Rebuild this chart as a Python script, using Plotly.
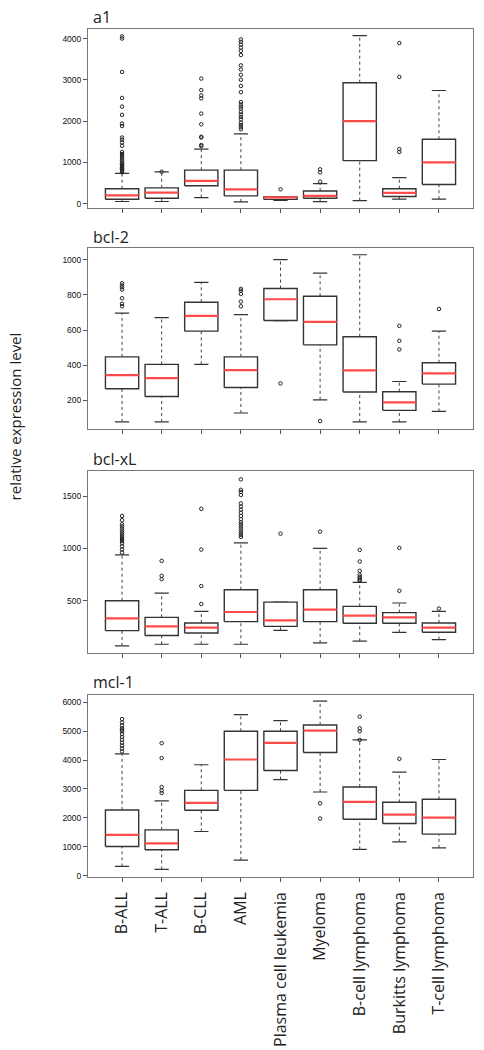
import plotly.graph_objects as go

W, H = 484, 1050

categories = ["B-ALL", "T-ALL", "B-CLL", "AML", "Plasma cell leukemia", "Myeloma",
              "B-cell lymphoma", "Burkitts lymphoma", "T-cell lymphoma"]

# ---- a1 ----
a1_low = [50, 50, 145, 40, 78, 48, 70, 105, 105]
a1_q1 = [105, 130, 430, 185, 100, 128, 1040, 170, 460]
a1_med = [200, 265, 550, 345, 150, 184, 2000, 260, 1000]
a1_q3 = [360, 380, 810, 810, 162, 305, 2930, 360, 1560]
a1_high = [730, 770, 1320, 1690, 162, 483, 4070, 628, 2740]
a1_out = [
    [760, 790, 820, 850, 880, 910, 940, 970, 1000, 1050, 1100, 1150, 1200, 1250,
     1400, 1480, 1550, 1600, 1880, 1940, 2150, 2350, 2560, 3190, 4000, 4050],
    [770],
    [1390, 1420, 1600, 1620, 1920, 2180, 2550, 2620, 2750, 3030],
    [1800, 1850, 1900, 1960, 2040, 2100, 2160, 2220, 2300, 2350, 2400, 2460, 2700,
     2850, 3000, 3120, 3250, 3350, 3600, 3700, 3780, 3850, 3920, 3980],
    [345],
    [530, 755, 830],
    [],
    [1250, 1320, 3070, 3890],
    [],
]
a1_ticks = [0, 1000, 2000, 3000, 4000]

# ---- bcl-2 ----
bcl2_low = [78, 78, 405, 129, 654, 204, 78, 78, 138]
bcl2_q1 = [267, 223, 594, 274, 654, 516, 248, 144, 293]
bcl2_med = [344, 327, 681, 372, 775, 647, 371, 189, 354]
bcl2_q3 = [448, 405, 758, 448, 836, 792, 562, 250, 414]
bcl2_high = [696, 671, 871, 688, 1000, 923, 1028, 308, 594]
bcl2_out = [
    [735, 749, 781, 830, 843, 853, 866],
    [],
    [],
    [735, 762, 805, 824, 834],
    [297],
    [83],
    [],
    [490, 539, 624],
    [720],
]
bcl2_ticks = [200, 400, 600, 800, 1000]

# ---- bcl-xL ----
bclxl_low = [68, 84, 84, 84, 217, 97, 113, 198, 129]
bclxl_q1 = [214, 167, 192, 300, 255, 300, 284, 284, 198]
bclxl_med = [332, 255, 243, 392, 313, 414, 357, 341, 243]
bclxl_q3 = [500, 341, 287, 605, 487, 605, 446, 386, 287]
bclxl_high = [938, 573, 398, 1052, 487, 1000, 675, 478, 398]
bclxl_out = [
    [960, 990, 1020, 1050, 1070, 1090, 1110, 1130, 1150, 1170, 1190, 1210, 1230, 1270, 1310],
    [706, 738, 881],
    [468, 640, 989, 1379],
    [1110, 1130, 1150, 1170, 1190, 1210, 1230, 1250, 1280, 1310, 1340, 1370, 1400,
     1430, 1510, 1540, 1560, 1660],
    [1141],
    [1160],
    [690, 700, 715, 730, 750, 786, 875, 986],
    [595, 1005],
    [425],
]
bclxl_ticks = [500, 1000, 1500]

# ---- mcl-1 ----
mcl1_low = [322, 218, 1528, 540, 3321, 2895, 908, 1172, 965]
mcl1_q1 = [1011, 896, 2264, 2953, 3642, 4263, 1953, 1804, 1436]
mcl1_med = [1413, 1115, 2516, 4021, 4596, 5021, 2551, 2114, 2011]
mcl1_q3 = [2275, 1586, 2953, 4998, 4998, 5216, 3068, 2539, 2643]
mcl1_high = [4217, 2585, 3838, 5573, 5366, 6044, 4699, 3585, 4021]
mcl1_out = [
    [4300, 4400, 4500, 4600, 4700, 4800, 4900, 5000, 5050, 5100, 5200, 5300, 5420],
    [2860, 2950, 3070, 4070, 4585],
    [],
    [],
    [],
    [2505, 1976],
    [4700, 5000, 5100, 5504],
    [4044],
    [],
]
mcl1_ticks = [0, 1000, 2000, 3000, 4000, 5000, 6000]

panels = [
    dict(title="a1", low=a1_low, q1=a1_q1, med=a1_med, q3=a1_q3, high=a1_high,
         out=a1_out, ticks=a1_ticks, yr=[-113, 4234], top=29, bot=209, ty=17),
    dict(title="bcl-2", low=bcl2_low, q1=bcl2_q1, med=bcl2_med, q3=bcl2_q3, high=bcl2_high,
         out=bcl2_out, ticks=bcl2_ticks, yr=[36, 1066], top=249, bot=431, ty=238),
    dict(title="bcl-xL", low=bclxl_low, q1=bclxl_q1, med=bclxl_med, q3=bclxl_q3, high=bclxl_high,
         out=bclxl_out, ticks=bclxl_ticks, yr=[5, 1738], top=473, bot=655, ty=461),
    dict(title="mcl-1", low=mcl1_low, q1=mcl1_q1, med=mcl1_med, q3=mcl1_q3, high=mcl1_high,
         out=mcl1_out, ticks=mcl1_ticks, yr=[-34, 6241], top=698, bot=880, ty=685),
]

BOX_HW = 0.42
CAP_HW = 0.18
X_LEFT, X_RIGHT = 88, 473

fig = go.Figure()
annotations = []
layout_axes = {}

for k, p in enumerate(panels):
    n = k + 1
    xa = "x" if n == 1 else f"x{n}"
    ya = "y" if n == 1 else f"y{n}"
    bx, by, mx, my, wx, wy, cx, cy, ox, oy = [], [], [], [], [], [], [], [], [], []
    for i in range(len(categories)):
        l, a, m, b, h = p["low"][i], p["q1"][i], p["med"][i], p["q3"][i], p["high"][i]
        bx += [i - BOX_HW, i + BOX_HW, i + BOX_HW, i - BOX_HW, i - BOX_HW, None]
        by += [a, a, b, b, a, None]
        mx += [i - BOX_HW, i + BOX_HW, None]
        my += [m, m, None]
        wx += [i, i, None, i, i, None]
        wy += [b, h, None, l, a, None]
        cx += [i - CAP_HW, i + CAP_HW, None, i - CAP_HW, i + CAP_HW, None]
        cy += [h, h, None, l, l, None]
        for v in p["out"][i]:
            ox.append(i)
            oy.append(v)
    common = dict(xaxis=xa, yaxis=ya, showlegend=False, hoverinfo="skip")
    fig.add_trace(go.Scatter(x=wx, y=wy, mode="lines",
                             line=dict(color="#444", width=1, dash="dot"), **common))
    fig.add_trace(go.Scatter(x=cx, y=cy, mode="lines",
                             line=dict(color="#333", width=1.2), **common))
    fig.add_trace(go.Scatter(x=bx, y=by, mode="lines", fill="toself", fillcolor="white",
                             line=dict(color="#333", width=1.4), **common))
    fig.add_trace(go.Scatter(x=mx, y=my, mode="lines",
                             line=dict(color="#ff4a4a", width=2.2), **common))
    fig.add_trace(go.Scatter(x=ox, y=oy, mode="markers",
                             marker=dict(symbol="circle-open", size=3.5, color="#222",
                                         line=dict(width=1, color="#222")), **common))

    ydom = [1 - p["bot"] / H, 1 - p["top"] / H]
    last = (n == len(panels))
    layout_axes["xaxis" if n == 1 else f"xaxis{n}"] = dict(
        domain=[X_LEFT / W, X_RIGHT / W], anchor=ya, range=[-0.86, 8.86],
        tickmode="array", tickvals=list(range(len(categories))),
        ticktext=categories if last else [""] * len(categories),
        showticklabels=last, tickangle=-90, ticklabelstandoff=4,
        tickfont=dict(family="Open Sans", size=16, color="#222"),
        ticks="outside", ticklen=4, tickcolor="#555", tickwidth=1,
        showline=True, linecolor="#777", linewidth=1, mirror=True,
        showgrid=False, zeroline=False, fixedrange=True,
    )
    layout_axes["yaxis" if n == 1 else f"yaxis{n}"] = dict(
        domain=ydom, anchor=xa, range=p["yr"],
        tickmode="array", tickvals=p["ticks"], ticktext=[str(t) for t in p["ticks"]],
        tickfont=dict(family="Liberation Sans", size=8.5, color="#111"),
        ticks="outside", ticklen=4, tickcolor="#555", tickwidth=1,
        showline=True, linecolor="#777", linewidth=1, mirror=True,
        showgrid=False, zeroline=False, fixedrange=True,
    )
    annotations.append(dict(text=p["title"], x=91 / W, y=1 - p["ty"] / H,
                            xref="paper", yref="paper", xanchor="left", yanchor="middle",
                            showarrow=False,
                            font=dict(family="Open Sans", size=16, color="#222")))

annotations.append(dict(text="relative expression level", x=15 / W, y=1 - 418 / H,
                        xref="paper", yref="paper", xanchor="center", yanchor="middle",
                        textangle=-90, showarrow=False,
                        font=dict(family="Open Sans", size=15, color="#222")))

fig.update_layout(
    width=W, height=H, autosize=False,
    margin=dict(l=0, r=0, t=0, b=0),
    paper_bgcolor="white", plot_bgcolor="white",
    annotations=annotations,
    **layout_axes,
)

fig.write_html("out.html", config={"displayModeBar": False},
               post_script="document.body.style.margin='0';")
